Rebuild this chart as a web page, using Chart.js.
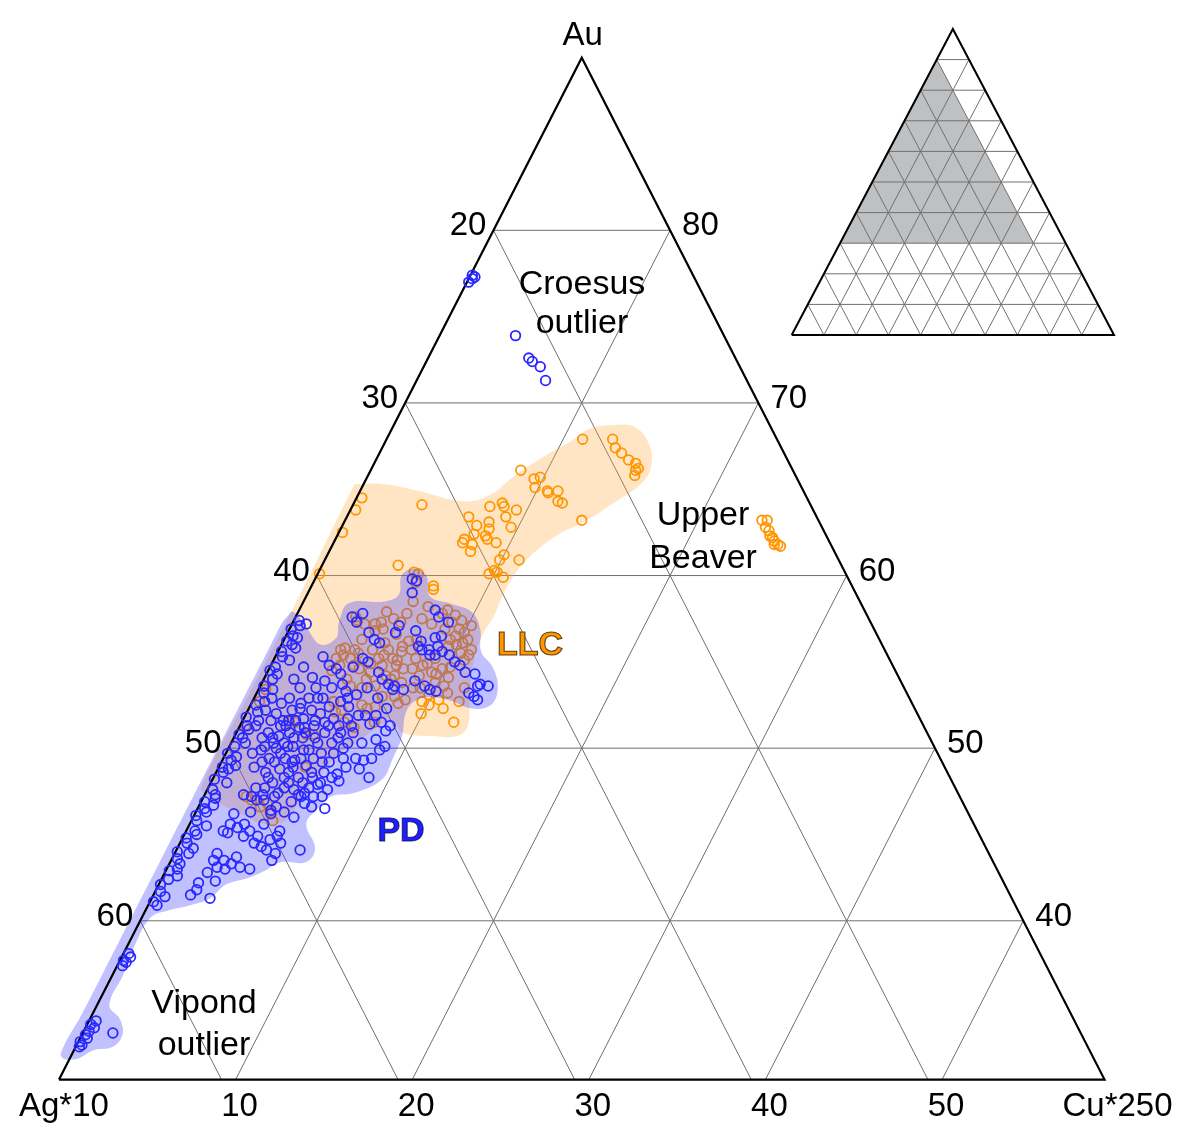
<!DOCTYPE html>
<html>
<head>
<meta charset="utf-8">
<title>Au – Ag*10 – Cu*250 ternary</title>
<script src="https://cdn.jsdelivr.net/npm/chart.js@4.4.0/dist/chart.umd.min.js"></script>
<style>
  html, body { margin: 0; padding: 0; background: #ffffff; }
  #wrap { position: relative; width: 1184px; height: 1129px; }
  #main { position: absolute; left: 0; top: 0; }
  #inset { position: absolute; left: 780px; top: 20px; }
</style>
</head>
<body>
<div id="wrap">
  <canvas id="main" width="1184" height="1129"></canvas>
  <canvas id="inset" width="350" height="330"></canvas>
</div>
<script>
// ---- frame of the zoomed ternary (percent of Au / Ag*10 / Cu*250) ----
const AU_APEX = 90;      // Au at the top corner
const AU_BASE = 30.8;    // Au along the bottom edge
const AG_FLOOR = 10;     // Ag*10 along the right edge

const auTicks = [80, 70, 60, 50, 40];
const agTicks = [20, 30, 40, 50, 60];
const cuTicks = [10, 20, 30, 40, 50];

// ---- PD samples (Au %, Cu*250 %) ----
const pdAu = [
  59.8, 59.7, 59.0, 57.6, 57.8, 57.3, 56.7, 56.3, 56.1, 56.7,
  57.1, 56.8, 56.2, 55.9, 58.0, 57.6, 57.3, 56.5, 56.4, 55.7,
  55.7, 55.9, 55.6, 55.4, 55.4, 55.4, 55.0, 54.8, 54.4, 54.3,
  53.7, 53.6, 53.6, 53.2, 53.0, 52.8, 55.3, 54.8, 54.6, 54.3,
  55.2, 55.0, 54.4, 54.0, 53.7, 53.6, 53.4, 53.4, 53.9, 53.6,
  53.4, 53.3, 53.1, 53.3, 52.7, 52.4, 51.9, 51.9, 51.9, 51.5,
  51.0, 50.5, 50.1, 51.4, 53.5, 52.9, 52.4, 52.0, 51.7, 51.3,
  50.9, 50.6, 50.3, 50.6, 50.1, 49.9, 49.7, 49.7, 49.4, 49.9,
  48.3, 49.4, 49.3, 48.5, 48.1, 47.6, 47.9, 48.3, 47.2, 46.6,
  46.8, 47.2, 47.4, 44.1, 45.2, 44.9, 44.5, 44.7, 43.9, 43.5,
  44.1, 45.6, 46.2, 46.2, 45.6, 45.2, 45.1, 45.4, 45.6, 45.2,
  44.9, 44.9, 44.5, 44.3, 43.9, 43.5, 43.5, 43.3, 43.7, 43.1,
  43.0, 43.0, 43.1, 42.8, 42.3, 42.2, 41.8, 41.5, 41.3, 47.3,
  47.2, 47.0, 47.7, 47.0, 47.2, 46.6, 46.4, 52.3, 51.6, 51.6,
  50.9, 50.7, 50.9, 51.2, 50.1, 50.0, 49.4, 49.3, 49.0, 49.4,
  48.8, 48.6, 48.3, 48.6, 48.0, 47.7, 47.6, 51.7, 52.2, 50.3,
  49.2, 48.6, 50.1, 51.6, 50.6, 52.9, 53.5, 53.5, 53.7, 54.1,
  53.9, 52.6, 52.2, 52.6, 50.3, 50.3, 50.6, 49.9, 49.4, 48.9,
  48.0, 49.2, 48.3, 49.2, 47.7, 49.2, 51.3, 51.3, 50.6, 51.2,
  51.3, 52.9, 52.9, 51.7, 50.9, 50.0, 50.3, 47.7, 47.2, 46.9,
  46.3, 52.2, 52.0, 51.3, 51.6, 50.9, 51.6, 51.5, 50.3, 50.9,
  51.3, 49.9, 50.6, 49.7, 49.2, 49.4, 48.6, 48.0, 48.3, 48.3,
  47.4, 48.0, 47.3, 47.3, 48.9, 49.7, 51.3, 54.0, 54.7, 52.9,
  54.7, 53.5, 52.9, 52.3, 51.3, 49.4, 48.8, 48.9, 46.5, 46.0,
  46.3
];
const pdCu = [
  5.5, 5.8, 5.9, 3.2, 3.7, 3.6, 4.6, 5.1, 5.5, 6.1,
  6.1, 7.2, 7.8, 7.8, 7.7, 8.1, 8.8, 8.8, 8.5, 8.1,
  8.5, 8.9, 9.3, 9.8, 9.0, 8.7, 10.3, 10.7, 11.2, 11.8,
  12.4, 12.9, 12.3, 12.0, 12.4, 12.7, 2.7, 3.3, 3.8, 4.2,
  5.0, 5.4, 6.3, 6.7, 7.2, 7.6, 8.2, 7.6, 8.6, 9.3,
  9.7, 10.1, 5.7, 5.0, 5.0, 5.6, 6.4, 6.8, 7.4, 7.9,
  8.4, 8.1, 8.8, 7.3, 3.2, 3.9, 4.5, 4.2, 5.1, 4.2,
  5.0, 5.9, 6.6, 3.9, 3.6, 4.6, 5.4, 6.1, 6.8, 8.6,
  8.8, 7.5, 8.0, 6.9, 7.2, 6.8, 6.1, 5.6, 6.2, 6.4,
  5.9, 5.5, 5.6, 7.0, 5.3, 5.3, 5.7, 5.0, 5.7, 5.7,
  5.1, 4.2, 4.3, 2.2, 2.3, 2.1, 2.4, 2.8, 3.1, 3.6,
  3.4, 4.2, 4.2, 4.7, 2.4, 2.4, 3.0, 3.5, 3.6, 4.1,
  4.7, 3.3, 2.8, 2.4, 3.1, 2.2, 2.3, 2.1, 3.3, 2.2,
  2.7, 3.1, 2.7, 3.5, 4.0, 4.4, 4.2, 2.9, 2.3, 2.6,
  1.8, 2.5, 3.0, 3.4, 2.0, 2.7, 3.5, 4.1, 4.9, 2.6,
  3.5, 4.1, 4.8, 2.8, 3.5, 4.3, 4.9, 3.4, 3.6, 4.9,
  6.1, 6.1, 3.3, 1.6, 1.6, 3.1, 2.3, 4.1, 4.6, 2.7,
  3.5, 1.7, 2.5, 2.8, 2.4, 3.0, 3.4, 4.3, 5.1, 4.2,
  5.2, 3.0, 4.0, 2.3, 3.2, 5.7, 5.0, 5.6, 4.6, 3.7,
  2.3, 2.0, 3.6, 5.9, 6.6, 6.5, 7.4, 5.7, 6.7, 5.1,
  5.0, 1.0, 1.7, 2.6, 3.0, 3.9, 4.1, 4.7, 5.7, 5.9,
  6.3, 1.9, 2.2, 3.1, 4.0, 4.4, 5.4, 6.2, 6.7, 3.1,
  4.1, 4.4, 5.3, 3.3, 2.0, 1.5, 0.9, 1.7, 1.9, 5.3,
  4.7, 6.1, 7.0, 7.8, 8.5, 8.4, 8.0, 7.2, 7.2, 5.7,
  3.1
];
// PD samples sitting on the Cu-free edge
const pdEdgeAu = [
  57.4, 57.1, 56.9, 56.5, 56.2, 56.0, 55.6, 55.3, 54.7, 54.5,
  54.0, 53.6, 53.2, 52.5, 52.1, 51.8, 51.3, 50.8, 50.6, 50.1,
  49.7, 49.3, 48.9, 48.6, 48.2, 47.6, 47.3, 46.9, 46.5, 46.1,
  45.8, 45.2, 44.8, 44.5, 44.0, 43.6, 43.3, 42.9, 42.4, 42.1,
  41.7, 41.1, 40.9, 55.8, 52.9, 49.0, 45.5, 43.9, 57.2, 56.4,
  55.1, 54.3, 53.4, 52.7, 51.6, 51.1, 50.3, 49.5, 48.8, 48.0,
  47.1, 46.7, 46.3, 45.0, 44.2, 43.0, 42.6, 41.4
];
const pdEdgeCu = [
  0.3, 0.5, 0.1, 0.4, 0.2, 0.6, 0.2, 0.4, 0.3, 0.1,
  0.5, 0.2, 0.4, 0.3, 0.6, 0.1, 0.4, 0.2, 0.5, 0.3,
  0.1, 0.5, 0.2, 0.4, 0.1, 0.3, 0.6, 0.2, 0.4, 0.1,
  0.3, 0.5, 0.2, 0.4, 0.1, 0.3, 0.6, 0.2, 0.4, 0.1,
  0.3, 0.2, 0.5, 0.9, 1.0, 0.9, 1.0, 0.8, 0.8, 0.7,
  0.9, 0.6, 0.8, 0.7, 0.9, 0.6, 0.8, 0.7, 0.6, 0.9,
  0.7, 0.8, 0.6, 0.7, 0.9, 0.6, 0.8, 0.7
];
const croesusAu = [77.4, 77.2, 77.0, 77.3, 73.9, 72.6, 72.4, 72.1, 71.3];
const croesusCu = [0.1, 0.2, 0.1, 0.3, 4.3, 5.7, 6.0, 6.6, 7.3];
const vipondAu = [38.1, 37.9, 37.7, 37.6, 37.4, 34.2, 34.0, 33.8, 33.6, 33.4, 33.2, 33.0, 32.8, 32.7, 33.5];
const vipondCu = [0.3, 0.5, 0.2, 0.4, 0.3, 0.4, 0.2, 0.5, 0.3, 0.2, 0.4, 0.1, 0.3, 0.2, 1.7];

// ---- LLC samples ----
const llcAu = [
  67.9, 67.9, 67.4, 67.1, 66.7, 66.5, 66.2, 66.1, 65.8, 66.1,
  65.6, 65.7, 65.1, 64.9, 64.9, 64.8, 64.3, 64.2, 63.2, 64.1,
  64.5, 63.8, 62.5, 60.1, 60.6, 60.2, 60.1, 59.6, 59.4, 59.2,
  64.0, 64.2, 64.0, 63.8, 63.4, 63.4, 62.9, 63.1, 62.7, 62.8,
  62.4, 62.1, 61.9, 61.8, 61.4, 62.3, 62.1, 61.9, 61.2, 60.9,
  60.9, 60.1, 60.2, 59.9, 60.3,
  58.5, 57.6, 57.4, 57.2, 57.3, 56.9, 56.8, 57.5, 56.6, 56.1,
  55.7, 55.4, 55.2, 55.9, 56.2, 55.6, 54.8, 54.8, 55.8, 55.4,
  55.2, 54.8, 54.8, 54.6, 55.2, 54.4, 54.0, 54.6, 54.2, 55.2,
  54.8, 54.2, 53.8, 54.2, 54.0, 58.0, 57.7, 57.4, 57.3, 56.9,
  56.7, 56.3, 56.9, 56.5, 56.1, 57.1, 55.9, 55.2, 54.6, 54.4,
  54.1, 53.6, 53.8, 55.4, 53.1, 52.8, 52.5, 52.3, 52.7, 51.5,
  52.8, 52.7, 52.5, 52.3, 52.4, 51.5, 52.7, 52.1, 52.2, 51.5,
  51.2, 51.5, 51.5, 50.8, 50.8, 53.6, 53.4, 52.7, 51.3, 48.9,
  47.2, 47.0, 46.6, 46.3, 45.8, 46.8,
  57.8, 57.5, 58.2, 57.8, 56.0, 55.7, 55.1, 54.7, 54.9, 55.7,
  55.1, 55.7, 56.3, 55.7, 54.9, 53.0, 52.6, 53.5, 53.5, 54.0,
  57.2, 57.9, 57.3, 56.3, 57.2, 56.3, 55.5, 54.3, 53.5, 54.6,
  55.2, 55.5, 55.7, 54.5, 53.6, 53.6, 53.0, 53.2, 53.5, 52.0
];
const llcCu = [
  11.1, 12.8, 13.2, 13.7, 14.3, 14.8, 15.1, 15.0, 15.1, 8.5,
  9.5, 9.8, 9.8, 10.6, 11.2, 10.7, 11.5, 11.8, 13.4, 3.9,
  0.3, 0.3, 0.2, 0.1, 4.3, 5.4, 5.7, 5.8, 6.9, 7.0,
  7.8, 8.4, 8.6, 9.4, 9.0, 6.9, 7.6, 8.2, 8.4, 9.6,
  7.7, 7.3, 7.3, 7.9, 8.0, 8.4, 8.6, 9.2, 10.0, 11.0,
  9.9, 9.7, 10.1, 10.6, 9.9,
  6.2, 3.4, 3.6, 4.7, 5.0, 5.3, 4.9, 5.6, 6.2, 5.8,
  6.2, 6.1, 6.7, 6.9, 7.1, 7.0, 7.1, 6.3, 3.7, 3.8,
  4.3, 4.7, 3.9, 5.1, 3.5, 5.8, 5.8, 8.1, 8.7, 8.0,
  8.6, 7.3, 7.9, 6.8, 7.2, 8.4, 9.0, 9.5, 9.0, 9.6,
  10.0, 10.4, 8.8, 9.6, 10.2, 10.2, 9.5, 9.1, 9.8, 9.3,
  10.4, 10.4, 9.8, 10.9, 9.8, 10.5, 10.1, 11.0, 11.7, 12.0,
  8.6, 9.6, 6.3, 6.7, 7.1, 7.5, 4.6, 5.0, 5.3, 5.8,
  6.5, 2.7, 3.0, 4.0, 4.4, 0.3, 0.4, 0.4, 0.3, 4.9,
  2.4, 2.8, 3.5, 4.2, 4.6, 3.8,
  6.2, 7.2, 7.2, 8.2, 9.9, 10.9, 10.8, 10.2, 8.8, 7.5,
  7.0, 5.3, 4.4, 4.3, 5.6, 7.2, 8.3, 8.7, 5.8, 4.7,
  4.1, 5.0, 6.1, 7.5, 7.9, 9.4, 10.4, 9.6, 9.1, 7.6,
  5.9, 4.6, 3.5, 3.6, 5.1, 6.5, 7.9, 10.8, 11.6, 9.9
];
const ubAu = [63.2, 63.2, 62.8, 62.6, 62.3, 62.2, 62.0, 61.8, 61.7, 61.8];
const ubCu = [23.6, 23.9, 24.0, 24.3, 24.5, 24.7, 24.9, 25.2, 25.4, 25.0];

// ---- outlines of the sample fields ----
const llcFieldAu = [65.3, 65.3, 64.9, 64.3, 64.7, 65.8, 66.8, 67.8, 68.5, 68.7, 68.6, 67.5, 66.2, 65.3, 64.3, 63.2, 62.2, 60.6, 59.0, 57.6, 56.6, 55.2, 52.9, 51.3, 50.7, 50.7, 50.9, 51.6, 50.7, 49.6, 48.4, 47.2, 45.9, 45.6, 46.3, 47.2, 47.7, 53.5, 59.2, 64.2, 65.3];
const llcFieldCu = [-0.5, 1.1, 3.3, 6.2, 7.5, 8.3, 9.3, 10.5, 11.2, 12.3, 13.7, 15.1, 15.8, 15.7, 14.8, 13.7, 12.3, 11.3, 11.1, 11.2, 11.1, 11.3, 12.2, 12.9, 12.6, 11.2, 9.4, 8.4, 7.4, 6.4, 5.9, 5.5, 5.4, 4.3, 2.3, 0.3, -0.4, -0.4, -0.4, -0.5, -0.5];
const pdFieldAu = [57.6, 57.9, 57.0, 56.0, 56.4, 57.3, 58.4, 58.5, 58.9, 60.0, 60.4, 60.0, 58.8, 58.4, 57.9, 56.9, 55.6, 54.7, 53.5, 52.5, 52.3, 52.8, 52.9, 52.2, 50.6, 49.4, 48.2, 47.4, 47.2, 46.5, 45.6, 44.2, 43.4, 43.4, 42.9, 42.5, 42.1, 41.3, 40.9, 40.6, 40.2, 38.6, 36.9, 35.1, 34.3, 33.4, 32.7, 32.5, 32.0, 32.1, 32.8, 34.6, 38.9, 43.6, 50.6, 55.7, 57.3, 57.6];
const pdFieldCu = [-0.5, -0.3, 0.9, 2.2, 2.9, 2.6, 2.6, 4.6, 5.2, 4.8, 5.3, 6.2, 7.0, 8.3, 9.8, 10.8, 11.5, 12.6, 13.5, 13.6, 12.6, 11.0, 9.5, 9.0, 9.5, 9.6, 9.6, 8.4, 7.2, 6.8, 6.6, 7.8, 7.7, 6.3, 5.6, 4.9, 3.8, 3.3, 2.4, 1.3, 0.5, 0.4, 0.6, 0.7, 1.7, 2.3, 2.1, 1.1, 0.4, -0.5, -0.7, -0.6, -0.6, -0.6, -0.6, -0.6, -0.6, -0.5];

// inset: full ternary with the zoomed window shaded
const insetSteps = [10, 20, 30, 40, 50, 60, 70, 80, 90];
const insetShadeAu = [90, 30, 30, 90];
const insetShadeCu = [0, 0, 60, 0];

// ---- helpers ----
// ternary (Au, Cu) -> plane coordinates: x = Cu + Au/2, y = Au
function tern(au, cu) { return { x: cu + au / 2, y: au }; }
function pts(auArr, cuArr) { return auArr.map((a, i) => tern(a, cuArr[i])); }
function seg(a, b) { return [a, b]; }

const FONT = '"Liberation Sans", Arial, Helvetica, sans-serif';
const BLUE = 'rgb(40,40,255)';
const ORANGE = 'rgb(255,150,0)';

function lineSet(data, color, width, order) {
  return { data, showLine: true, borderColor: color, borderWidth: width, pointRadius: 0,
           fill: false, tension: 0, order };
}
function markerSet(data, color, order) {
  return { data, showLine: false, pointRadius: 4.8, pointStyle: 'circle', pointBorderWidth: 1.8,
           pointBorderColor: color, pointBackgroundColor: 'rgba(0,0,0,0)', order };
}
function fieldSet(data, color, order) {
  return { data, showLine: true, fill: 'shape', backgroundColor: color, borderColor: 'rgba(0,0,0,0)',
           borderWidth: 0, pointRadius: 0, tension: 0.4, order };
}

// ---- main diagram datasets ----
const datasets = [];
auTicks.forEach(t => datasets.push(lineSet(seg(tern(t, 0), tern(t, 100 - AG_FLOOR - t)), '#6e6e6e', 1, 9)));
cuTicks.forEach(c => datasets.push(lineSet(seg(tern(AU_BASE, c), tern(100 - AG_FLOOR - c, c)), '#6e6e6e', 1, 9)));
agTicks.forEach(g => datasets.push(lineSet(seg(tern(100 - g, 0), tern(AU_BASE, 100 - g - AU_BASE)), '#6e6e6e', 1, 9)));

datasets.push(fieldSet(pts(llcFieldAu, llcFieldCu), 'rgba(255,170,60,0.30)', 8));
datasets.push(markerSet(pts(llcAu, llcCu), ORANGE, 7));
datasets.push(markerSet(pts(ubAu, ubCu), ORANGE, 7));
datasets.push(fieldSet(pts(pdFieldAu, pdFieldCu), 'rgba(50,50,255,0.30)', 6));
datasets.push(lineSet([tern(AU_BASE, 0), tern(AU_APEX, 0), tern(AU_BASE, 100 - AG_FLOOR - AU_BASE), tern(AU_BASE, 0)], '#000000', 2.2, 5));
datasets.push(markerSet(pts(pdAu, pdCu), BLUE, 2));
datasets.push(markerSet(pts(pdEdgeAu, pdEdgeCu), BLUE, 2));
datasets.push(markerSet(pts(croesusAu, croesusCu), BLUE, 2));
datasets.push(markerSet(pts(vipondAu, vipondCu), BLUE, 2));

// axis numbers, corner names and field names
const labelPlugin = {
  id: 'ternaryLabels',
  afterDatasetsDraw(chart) {
    const ctx = chart.ctx, sx = chart.scales.x, sy = chart.scales.y;
    const P = (au, cu) => { const t = tern(au, cu); return [sx.getPixelForValue(t.x), sy.getPixelForValue(t.y)]; };
    ctx.save();
    ctx.fillStyle = '#000';
    ctx.textBaseline = 'alphabetic';
    ctx.font = '33px ' + FONT;
    auTicks.forEach(t => { const [x, y] = P(t, 100 - AG_FLOOR - t); ctx.textAlign = 'left'; ctx.fillText(String(t), x + 12, y + 5); });
    agTicks.forEach(g => { const [x, y] = P(100 - g, 0); ctx.textAlign = 'right'; ctx.fillText(String(g), x - 7, y + 5); });
    cuTicks.forEach(c => { const [x, y] = P(AU_BASE, c); ctx.textAlign = 'center'; ctx.fillText(String(c), x + 4, y + 36); });

    const [ax, ay] = P(AU_APEX, 0);
    ctx.textAlign = 'center'; ctx.fillText('Au', ax + 1, ay - 13);
    const [lx, ly] = P(AU_BASE, 0);
    ctx.textAlign = 'left'; ctx.fillText('Ag*10', lx - 40, ly + 36);
    const [rx, ry] = P(AU_BASE, 100 - AG_FLOOR - AU_BASE);
    ctx.textAlign = 'right'; ctx.fillText('Cu*250', rx + 68, ry + 36);

    ctx.font = '34px ' + FONT;
    ctx.textAlign = 'center';
    ctx.fillText('Croesus', 582, 294);
    ctx.fillText('outlier', 582, 333);
    ctx.fillText('Upper', 703, 525);
    ctx.fillText('Beaver', 703, 568);
    ctx.fillText('Vipond', 204, 1013);
    ctx.fillText('outlier', 204, 1055);

    ctx.font = 'bold 34px ' + FONT;
    ctx.lineWidth = 1.1;
    ctx.fillStyle = ORANGE; ctx.strokeStyle = 'rgba(70,40,0,0.85)';
    ctx.fillText('LLC', 530, 655); ctx.strokeText('LLC', 530, 655);
    ctx.fillStyle = 'rgb(30,30,255)'; ctx.strokeStyle = 'rgba(10,10,90,0.8)';
    ctx.fillText('PD', 401, 841); ctx.strokeText('PD', 401, 841);
    ctx.restore();
  }
};

new Chart(document.getElementById('main'), {
  type: 'scatter',
  data: { datasets },
  options: {
    responsive: false, devicePixelRatio: 1, animation: false, events: [],
    layout: { padding: 0 },
    plugins: { legend: { display: false }, tooltip: { enabled: false } },
    scales: {
      x: { type: 'linear', display: false, min: 12.433, max: 78.726 },
      y: { type: 'linear', display: false, min: 28.32, max: 92.96 }
    }
  },
  plugins: [labelPlugin]
});

// ---- inset: whole ternary with the shaded window ----
const insetSets = [];
insetSets.push({ data: pts(insetShadeAu, insetShadeCu), showLine: true, fill: 'shape', backgroundColor: '#bec0c2',
                 borderColor: 'rgba(0,0,0,0)', borderWidth: 0, pointRadius: 0, tension: 0, order: 5 });
insetSteps.forEach(s => {
  insetSets.push(lineSet(seg(tern(s, 0), tern(s, 100 - s)), '#707070', 1, 4));
  insetSets.push(lineSet(seg(tern(0, s), tern(100 - s, s)), '#707070', 1, 4));
  insetSets.push(lineSet(seg(tern(100 - s, 0), tern(0, 100 - s)), '#707070', 1, 4));
});
insetSets.push(lineSet([tern(0, 0), tern(100, 0), tern(0, 100), tern(0, 0)], '#000000', 2, 1));

new Chart(document.getElementById('inset'), {
  type: 'scatter',
  data: { datasets: insetSets },
  options: {
    responsive: false, devicePixelRatio: 1, animation: false, events: [],
    layout: { padding: 0 },
    plugins: { legend: { display: false }, tooltip: { enabled: false } },
    scales: {
      x: { type: 'linear', display: false, min: -3.63, max: 104.96 },
      y: { type: 'linear', display: false, min: -4.90, max: 102.94 }
    }
  }
});
</script>
</body>
</html>
